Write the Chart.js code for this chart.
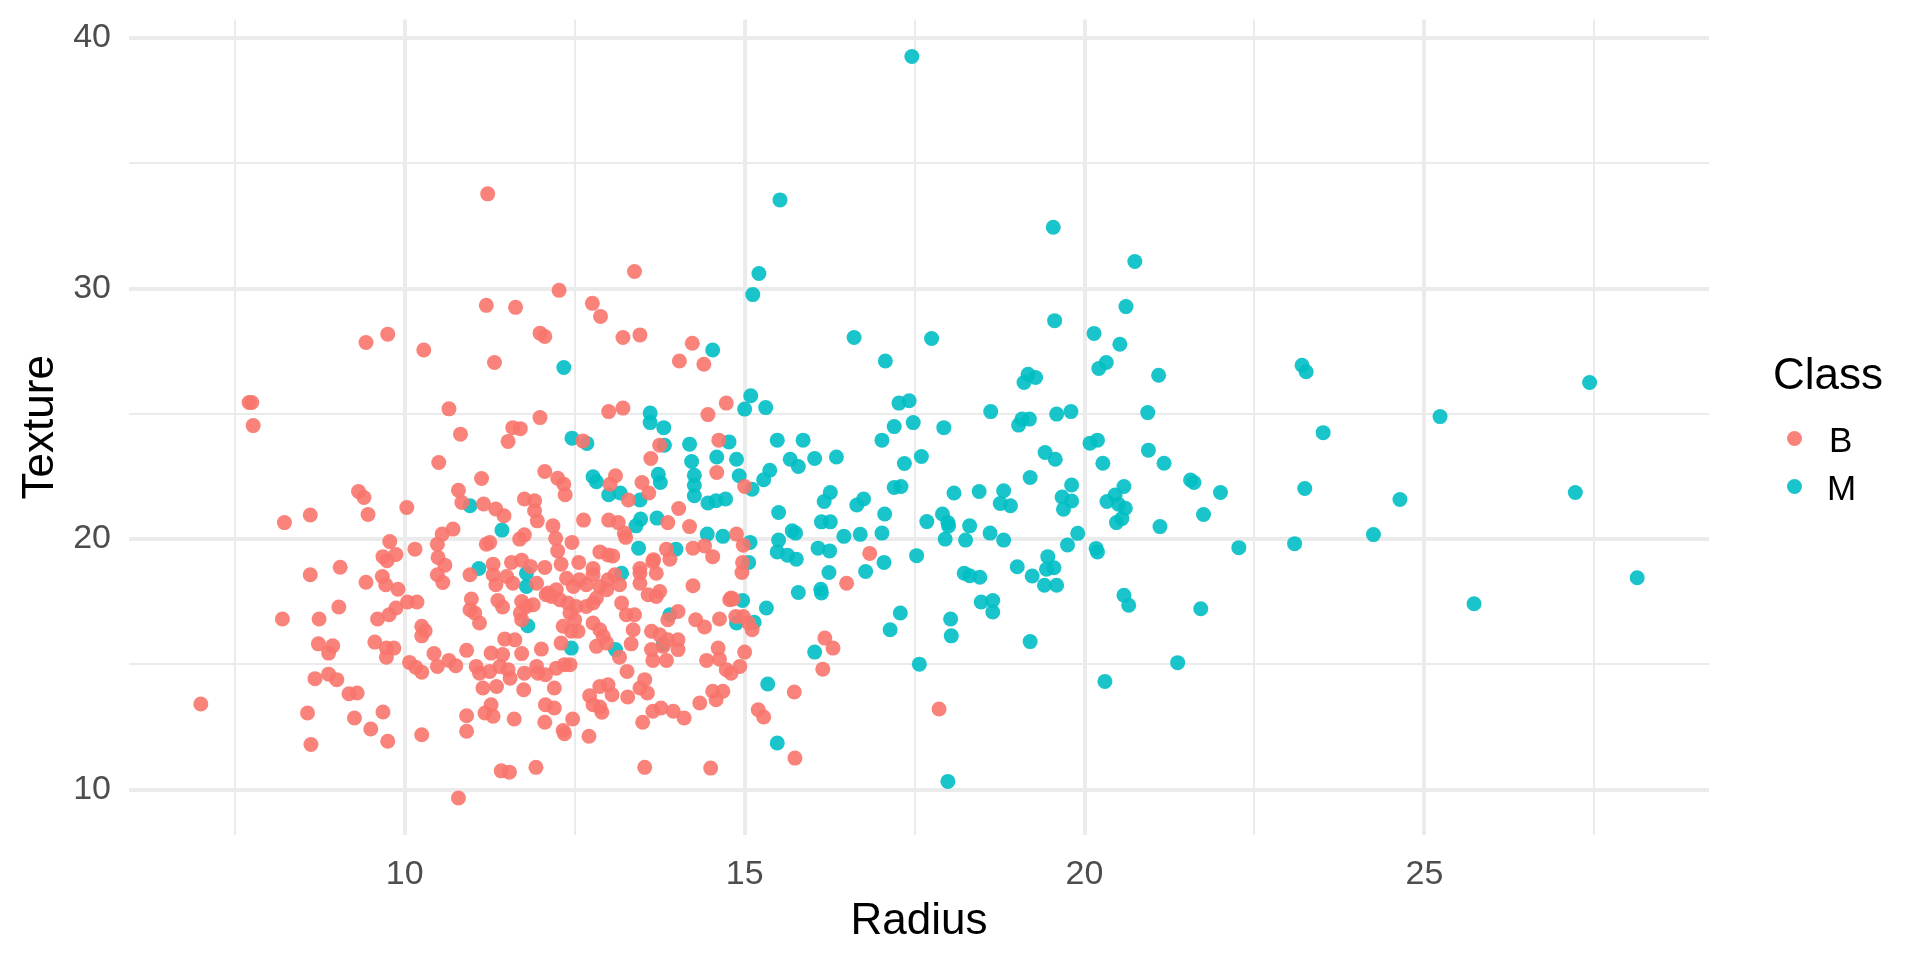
<!DOCTYPE html>
<html><head><meta charset="utf-8">
<style>
html,body{margin:0;padding:0;background:#fff;}
#wrap{position:relative;width:1920px;height:960px;overflow:hidden;}
canvas{position:absolute;left:0;top:0;}
.lg{position:absolute;font-family:"Liberation Sans",Arial,sans-serif;color:#000;white-space:nowrap;line-height:1;}
.key{position:absolute;width:15px;height:15px;border-radius:50%;}
</style>
<script src="https://cdn.jsdelivr.net/npm/chart.js@4/dist/chart.umd.min.js"></script>
</head><body>
<div id="wrap">
<canvas id="c" width="1920" height="960"></canvas>
<div class="lg" style="left:1773px;top:352px;font-size:44px;">Class</div>
<div class="key" style="left:1787px;top:431px;background:rgba(248,118,109,0.9);"></div>
<div class="lg" style="left:1829px;top:422px;font-size:35px;">B</div>
<div class="key" style="left:1787px;top:479px;background:rgba(0,191,196,0.9);"></div>
<div class="lg" style="left:1827px;top:470px;font-size:35px;">M</div>
</div>
<script>
const classes = ['B', 'M'];
const xTicks = [7.5, 10, 12.5, 15, 17.5, 20, 22.5, 25, 27.5];
const yTicks = [10, 15, 20, 25, 30, 35, 40];
const xTitle = 'Radius';
const yTitle = 'Texture';

// [radius, texture] for class B
const benign = [
[9.43,27.85],[9.75,28.18],[10.28,27.55],[7.71,25.45],[7.75,25.45],[7.77,24.53],[10.65,25.2],[10.82,24.19],[10.5,23.06],[9.32,21.9],[9.40,21.66],[9.46,20.98],[10.03,21.26],[8.61,20.96],[8.23,20.66],[10.79,21.95],[10.71,20.4],[10.55,20.2],[10.48,19.8],[10.49,19.27],[10.59,18.96],[9.78,19.9],[10.15,19.6],[9.68,19.3],[9.74,19.14],[9.87,19.39],[9.05,18.88],[10.84,21.46],
[8.61,18.58],[9.43,18.28],[9.67,18.51],[9.72,18.18],[9.90,18.0],[10.48,18.58],[10.56,18.27],[10.04,17.49],[10.18,17.49],[9.03,17.29],[8.2,16.81],[8.74,16.81],[9.6,16.81],[9.77,16.98],[9.87,17.25],[10.25,16.52],[10.30,16.34],[10.25,16.14],[8.73,15.82],[8.94,15.74],[8.88,15.45],[9.56,15.89],[9.73,15.65],[9.84,15.65],[9.73,15.29],[10.43,15.43],[10.07,15.08],[10.16,14.89],[10.25,14.69],[10.48,14.92],[10.65,15.16],[10.75,14.95],[8.68,14.43],[8.88,14.61],[9.0,14.39],[9.18,13.83],[9.30,13.86],[7.0,13.42],[8.57,13.06],[9.26,12.86],[9.68,13.1],[9.5,12.42],[9.75,11.93],[8.62,11.8],[10.25,12.19],[10.79,9.67],
[11.22,33.78],[13.38,30.68],[12.27,29.93],[11.2,29.33],[11.63,29.25],[12.76,29.41],[12.88,28.89],
[11.99,28.22],[12.06,28.09],[13.21,28.05],[13.46,28.15],[14.23,27.82],[14.04,27.11],[14.4,26.98],[11.32,27.05],[14.73,25.43],[14.46,24.97],[13.0,25.09],[13.21,25.23],[11.99,24.85],[11.59,24.45],[11.7,24.41],[11.52,23.9],[12.62,23.92],[13.75,23.75],[13.62,23.22],[14.62,23.95],[14.59,22.66],[12.06,22.7],[12.25,22.43],[12.34,22.19],[12.36,21.77],[11.13,22.42],[13.1,22.53],[13.02,22.19],[13.29,21.56],[13.49,22.26],[13.59,21.84],[14.03,21.22],[11.16,21.4],[11.34,21.2],[11.46,20.93],[11.76,21.6],[11.91,21.53],[11.91,21.13],[11.95,20.73],[11.25,19.87],[11.2,19.8],[11.69,20.0],[11.76,20.17],[12.18,20.53],[12.22,20.03],[12.25,19.53],[12.46,19.87],[12.63,20.76],[13.0,20.76],[13.14,20.66],[13.23,20.24],[13.25,20.07],[13.87,20.66],[14.19,20.5],[13.85,19.6],[13.9,19.2],[14.24,19.64],[14.41,19.73],[14.53,19.3],[12.87,19.49],[12.99,19.37],[13.06,19.33],[13.66,19.18],[11.3,19.0],[11.57,19.07],[11.72,19.16],[11.85,18.91],[12.06,18.87],[12.3,19.0],[12.56,19.07],[12.77,18.83],[13.46,18.83],[13.65,19.1],
[10.96,18.58],[11.3,18.58],[11.34,18.18],[11.5,18.51],[11.59,18.24],[11.94,18.24],[12.11,17.85],[12.23,17.98],[12.38,18.44],[12.48,18.11],[12.57,18.38],[12.67,18.18],[12.77,18.58],[12.87,18.11],[12.99,18.38],[13.09,18.58],[13.16,18.18],[13.46,18.64],[13.46,18.24],[13.7,18.64],[13.58,17.78],[13.7,17.71],[13.75,17.91],[14.24,18.14],[14.8,17.65],
[10.98,17.61],[10.96,17.18],[11.03,17.05],[11.1,16.65],[11.37,17.55],[11.44,17.29],[11.72,17.51],[11.79,17.31],[11.89,17.38],[11.7,17.05],[11.72,16.78],[12.08,17.78],[12.16,17.71],[12.28,17.58],[12.4,17.45],[12.52,17.31],[12.43,17.05],[12.5,16.78],[12.55,16.32],[12.45,16.32],[12.67,17.31],[12.77,17.45],[12.82,17.65],[12.97,17.98],[13.19,17.45],[13.26,16.98],[13.38,16.98],[12.33,16.52],[12.77,16.65],[12.87,16.38],[12.92,16.12],[12.97,15.85],[12.82,15.72],[13.36,16.38],[13.63,16.32],[13.75,16.18],[13.87,15.98],[14.02,15.98],[13.8,15.72],[14.02,17.11],[13.87,16.78],[14.28,16.78],[14.41,16.49],[14.63,16.81],[14.78,17.58],[11.47,16.01],[11.62,15.98],[11.27,15.45],[11.44,15.39],[11.72,15.43],[10.91,15.56],[12.01,15.61],[12.3,15.85],[13.16,15.29],[13.33,15.82],[13.63,15.59],[13.65,15.16],[13.85,15.16],[14.02,15.59],[14.61,15.65],[14.63,15.21],[14.44,15.16],
[11.05,14.92],[11.1,14.65],[11.25,14.72],[11.4,14.92],[11.52,14.79],[11.55,14.45],[11.76,14.65],[11.94,14.92],[11.96,14.65],[12.07,14.59],[12.23,14.85],[12.35,14.99],[12.43,14.99],[13.27,14.72],[14.73,14.79],[14.8,14.65],
[11.15,14.06],[11.35,14.12],[11.75,13.99],[12.2,14.06],[12.72,13.75],[12.87,14.12],[12.99,14.19],[13.05,13.79],[12.77,13.39],[12.87,13.3],[12.9,13.09],[13.28,13.7],[13.46,14.06],[13.53,14.39],[13.57,13.86],[13.65,13.13],[13.77,13.26],[13.95,13.13],[14.11,12.86],[13.5,12.69],[14.34,13.46],[14.53,13.93],[14.68,13.93],[14.58,13.59],[10.91,12.95],[10.91,12.33],[11.18,13.06],[11.27,13.39],[11.3,12.93],[11.61,12.82],[12.07,13.39],[12.2,13.26],[12.06,12.69],[12.47,12.82],[12.33,12.36],[12.35,12.23],[12.71,12.13],[11.42,10.75],[11.54,10.7],[11.93,10.89],[13.53,10.89],[14.5,10.86],
[15.0,22.1],[14.88,20.2],[14.98,19.76],[16.84,19.43],[14.97,19.07],
[14.96,18.67],[16.5,18.24],[14.83,17.61],[14.87,16.91],[14.98,16.91],[15.06,16.65],[15.11,16.38],[16.18,16.05],[16.3,15.65],[15.0,15.49],[14.93,14.92],[16.15,14.81],[15.73,13.9],[15.2,13.19],[15.28,12.9],[17.86,13.22],[15.74,11.26]
];

// [radius, texture] for class M
const malignant = [
[10.96,21.33],
[14.53,27.55],[12.34,26.85],[13.61,25.03],[13.61,24.65],[13.81,24.45],[12.46,24.03],[12.68,23.82],[13.82,23.75],[14.19,23.79],[14.22,23.1],[14.77,23.88],[14.59,23.28],[12.77,22.49],[12.82,22.29],[13.0,21.77],[13.17,21.84],[13.46,21.56],[13.73,22.59],[13.76,22.26],[14.26,22.55],[14.26,22.15],[14.26,21.73],[14.46,21.44],[14.58,21.53],[14.72,21.6],[11.43,20.36],[13.47,20.8],[13.4,20.53],[13.71,20.84],[14.45,20.2],[14.68,20.11],[13.44,19.64],[13.99,19.6],[11.09,18.83],
[11.79,18.64],[11.79,18.11],[13.19,18.64],[11.81,16.54],[13.9,16.98],[13.8,15.8],[12.45,15.65],[13.1,15.59],
[17.46,39.26],[15.52,33.54],[15.21,30.6],[15.12,29.76],
[19.54,32.45],[20.74,31.08],[20.61,29.28],[19.56,28.72],[20.14,28.21],
[16.61,28.05],[17.75,28.01],[17.07,27.11],[15.09,25.72],[15.0,25.19],[15.31,25.25],[17.27,25.43],[17.42,25.52],[18.62,25.09],[17.2,24.49],[17.48,24.65],[17.93,24.45],[17.02,23.95],[15.48,23.95],[15.86,23.95],[14.88,23.19],[15.67,23.19],[15.79,22.9],[16.03,23.22],[16.35,23.28],[17.35,23.02],[17.6,23.3],[14.92,22.53],[15.37,22.75],[15.28,22.37],[15.11,21.99],[16.26,21.86],[16.17,21.5],[16.75,21.6],[16.65,21.36],[17.2,22.06],[17.3,22.1],[18.08,21.84],[18.45,21.9],[18.81,21.93],[18.76,21.42],[18.91,21.33],[15.5,21.06],[17.06,21.0],[16.13,20.69],[16.26,20.69],[15.7,20.33],[15.75,20.24],[16.46,20.11],[16.7,20.19],[17.02,20.24],[17.68,20.7],[17.91,21.0],[17.99,20.66],[18.0,20.53],[18.31,20.53],[18.61,20.24],[18.81,19.96],[17.95,20.0],[18.25,19.96],[15.08,19.87],[15.5,19.96],[15.48,19.49],[15.63,19.36],[15.76,19.2],[16.08,19.64],[16.25,19.53],[17.05,19.07],[17.53,19.34],[15.06,19.07],
[16.24,18.67],[16.78,18.71],[18.23,18.64],[18.31,18.54],[18.46,18.48],[15.79,17.87],[16.12,18.0],[16.13,17.85],[14.97,17.55],[15.32,17.25],[14.88,16.65],[15.14,16.68],[17.29,17.05],[17.14,16.38],[18.03,16.81],[18.04,16.14],[18.48,17.49],[18.65,17.55],[18.65,17.09],[16.03,15.49],[17.57,15.01],[15.34,14.22],[15.48,11.86],[17.99,10.33],
[20.52,27.78],[20.21,26.81],[20.32,27.05],[21.09,26.54],[19.17,26.58],[19.28,26.45],[19.11,26.25],[23.2,26.94],[23.26,26.68],[20.93,25.05],[19.59,24.99],[19.8,25.09],[19.08,24.79],[19.19,24.79],[19.03,24.55],[20.08,23.83],[20.19,23.95],[19.42,23.46],[19.57,23.19],[20.27,23.03],[20.94,23.55],[21.17,23.03],[19.2,22.46],[21.56,22.36],[21.61,22.26],[22.0,21.86],[23.24,22.02],[19.81,22.16],[19.67,21.68],[19.81,21.52],[19.69,21.19],[20.58,22.1],[20.45,21.76],[20.33,21.5],[20.5,21.39],[20.6,21.23],[20.55,20.82],[20.47,20.66],[21.75,20.98],[21.11,20.5],[19.9,20.23],[19.75,19.77],[20.17,19.63],[20.19,19.49],[22.27,19.66],[23.09,19.82],[19.01,18.9],[19.46,19.3],[19.23,18.53],[19.44,18.8],[19.55,18.86],[19.41,18.16],[19.59,18.16],[20.58,17.76],[20.65,17.36],[21.71,17.22],[19.2,15.91],[21.37,15.07],[20.3,14.32],
[23.51,24.25],[24.64,21.58],[24.25,20.18],[25.23,24.89],[27.43,26.25],[27.22,21.86],[28.13,18.46],[25.73,17.42]
];

const FONT = '"Liberation Sans", Arial, sans-serif';
const all = benign.concat(malignant);
const rs = all.map(p => p[0]), ts = all.map(p => p[1]);
const rMin = Math.min(...rs), rMax = Math.max(...rs);
const tMin = Math.min(...ts), tMax = Math.max(...ts);
const rPad = (rMax - rMin) * 0.05, tPad = (tMax - tMin) * 0.05;

function toXY(arr){ return arr.map(p => ({x: p[0], y: p[1]})); }

new Chart(document.getElementById('c'), {
  type: 'scatter',
  data: {
    datasets: [
      {label: classes[0], data: toXY(benign), backgroundColor: 'rgba(248,118,109,0.9)', borderWidth: 0, pointRadius: 7.5, pointHoverRadius: 7.5},
      {label: classes[1], data: toXY(malignant), backgroundColor: 'rgba(0,191,196,0.9)', borderWidth: 0, pointRadius: 7.5, pointHoverRadius: 7.5}
    ]
  },
  options: {
    responsive: false,
    devicePixelRatio: 1,
    animation: false,
    events: [],
    layout: {padding: {left: 0, top: 19.5, right: 211, bottom: 0}},
    plugins: {legend: {display: false}, tooltip: {enabled: false}},
    scales: {
      x: {
        type: 'linear',
        min: rMin - rPad, max: rMax + rPad,
        afterBuildTicks: s => { s.ticks = xTicks.map(v => ({value: v})); },
        afterFit: s => { s.height = 125; s.paddingLeft = 0; s.paddingRight = 0; },
        border: {display: false},
        grid: {color: '#EBEBEB', drawTicks: false, lineWidth: c => (c.tick && c.tick.value % 5 === 0) ? 4 : 2},
        ticks: {autoSkip: false, maxRotation: 0, padding: 19, color: '#4D4D4D', font: {family: FONT, size: 34},
                callback: v => (v % 5 === 0 ? String(v) : '')},
        title: {display: true, text: xTitle, color: '#000', font: {family: FONT, size: 44}, padding: {top: 0, bottom: 12}}
      },
      y: {
        type: 'linear',
        min: tMin - tPad, max: tMax + tPad,
        afterBuildTicks: s => { s.ticks = yTicks.map(v => ({value: v})); },
        afterFit: s => { s.width = 129; s.paddingTop = 0; s.paddingBottom = 0; },
        border: {display: false},
        grid: {color: '#EBEBEB', drawTicks: false, lineWidth: c => (c.tick && c.tick.value % 10 === 0) ? 4 : 2},
        ticks: {autoSkip: false, padding: 18, color: '#4D4D4D', font: {family: FONT, size: 34},
                callback: v => (v % 10 === 0 ? String(v) : '')},
        title: {display: true, text: yTitle, color: '#000', font: {family: FONT, size: 44}, padding: {top: 14, bottom: 0}}
      }
    }
  }
});
</script>
</body></html>
